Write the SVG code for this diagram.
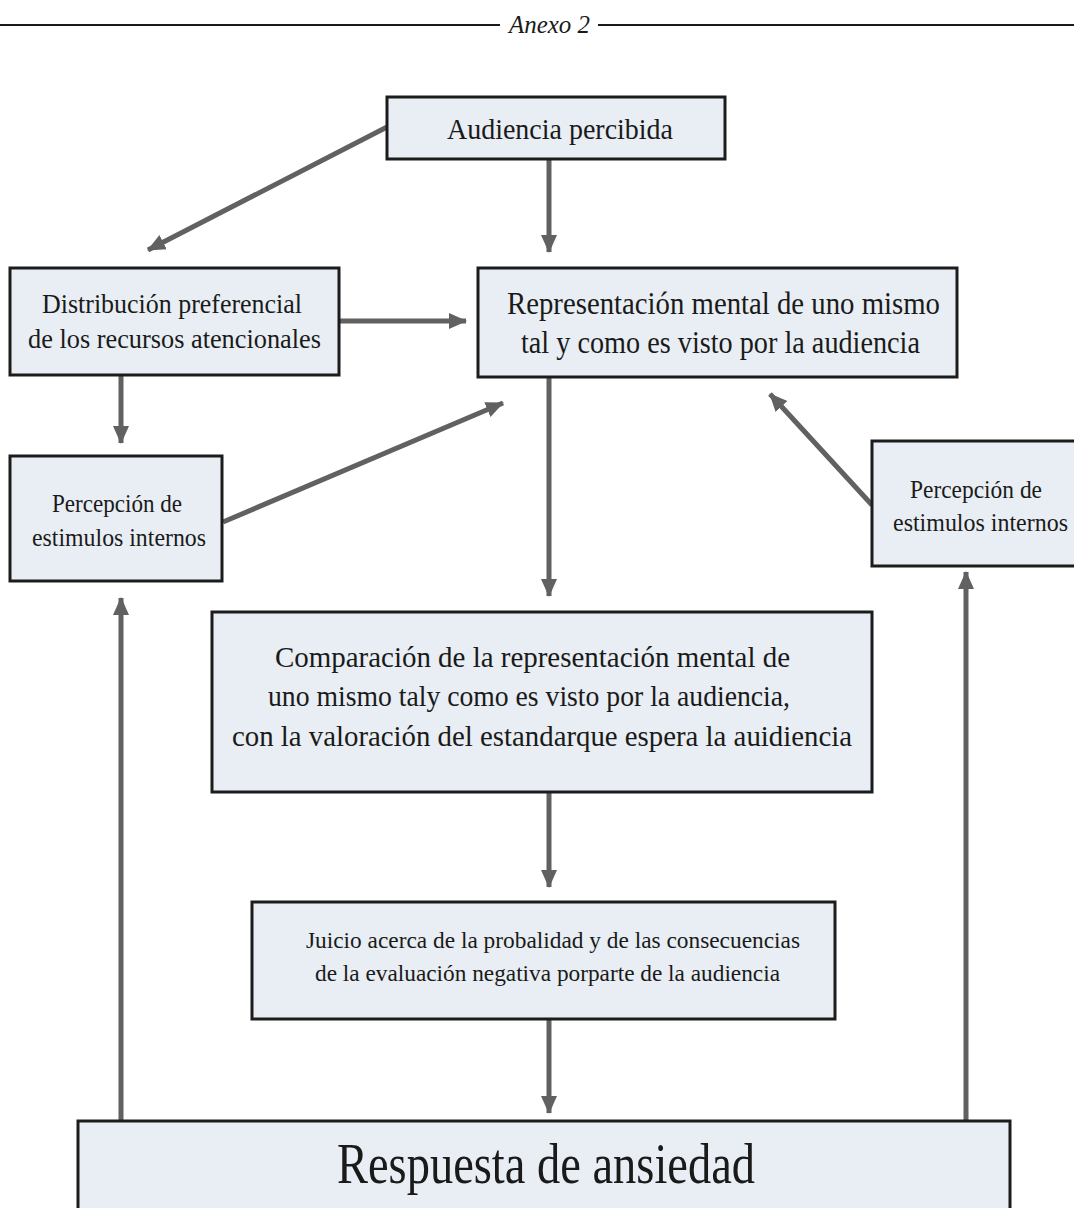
<svg xmlns="http://www.w3.org/2000/svg" width="1074" height="1208" viewBox="0 0 1074 1208">
<style>
.box{fill:#e8eef3;stroke:#1c1c1c;stroke-width:3}
.t{font-family:"Liberation Serif","DejaVu Serif",serif;fill:#1a1a1a}
.c{stroke:#616161;stroke-width:5;fill:none;marker-end:url(#ah)}
</style>
<defs>
<marker id="ah" markerUnits="userSpaceOnUse" markerWidth="18" markerHeight="18" viewBox="0 0 18 18" refX="17" refY="9" orient="auto">
<path d="M0,1 L18,9 L0,17 z" fill="#616161"/>
</marker>
</defs>
<rect width="1074" height="1208" fill="#ffffff"/>
<g id="header">
<line x1="0" y1="25" x2="500" y2="25" stroke="#1a1a1a" stroke-width="2"/>
<line x1="598" y1="25" x2="1074" y2="25" stroke="#1a1a1a" stroke-width="2"/>
<text class="t" x="509" y="33" font-size="25" font-style="italic" textLength="81" lengthAdjust="spacingAndGlyphs">Anexo 2</text>
</g>
<g id="connectors">
<line class="c" x1="387" y1="127" x2="148" y2="250"/>
<line class="c" x1="549" y1="160" x2="549" y2="252"/>
<line class="c" x1="340" y1="321" x2="466" y2="321"/>
<line class="c" x1="121" y1="376" x2="121" y2="443"/>
<line class="c" x1="223" y1="522" x2="503" y2="403"/>
<line class="c" x1="549" y1="378" x2="549" y2="596"/>
<line class="c" x1="872" y1="505" x2="770" y2="394"/>
<line class="c" x1="549" y1="793" x2="549" y2="887"/>
<line class="c" x1="549" y1="1020" x2="549" y2="1113"/>
<line class="c" x1="121" y1="1121" x2="121" y2="598"/>
<line class="c" x1="966" y1="1121" x2="966" y2="572"/>
</g>
<g id="audiencia">
<rect class="box" x="387" y="97" width="338" height="62"/>
<text class="t" x="447" y="139" font-size="30" textLength="226" lengthAdjust="spacingAndGlyphs">Audiencia percibida</text>
</g>
<g id="distribucion">
<rect class="box" x="10" y="268" width="329" height="107"/>
<text class="t" x="42" y="313" font-size="28" textLength="260" lengthAdjust="spacingAndGlyphs">Distribución preferencial</text>
<text class="t" x="28" y="348" font-size="28" textLength="293" lengthAdjust="spacingAndGlyphs">de los recursos atencionales</text>
</g>
<g id="representacion">
<rect class="box" x="478" y="268" width="479" height="109"/>
<text class="t" x="507" y="314" font-size="31" textLength="433" lengthAdjust="spacingAndGlyphs">Representación mental de uno mismo</text>
<text class="t" x="521" y="353" font-size="31" textLength="399" lengthAdjust="spacingAndGlyphs">tal y como es visto por la audiencia</text>
</g>
<g id="percepcion-izq">
<rect class="box" x="10" y="456" width="212" height="125"/>
<text class="t" x="52" y="512" font-size="25" textLength="130" lengthAdjust="spacingAndGlyphs">Percepción de</text>
<text class="t" x="32" y="546" font-size="25" textLength="174" lengthAdjust="spacingAndGlyphs">estimulos internos</text>
</g>
<g id="percepcion-der">
<rect class="box" x="872" y="441" width="210" height="125"/>
<text class="t" x="910" y="498" font-size="25" textLength="132" lengthAdjust="spacingAndGlyphs">Percepción de</text>
<text class="t" x="893" y="531" font-size="25" textLength="175" lengthAdjust="spacingAndGlyphs">estimulos internos</text>
</g>
<g id="comparacion">
<rect class="box" x="212" y="612" width="660" height="180"/>
<text class="t" x="275" y="667" font-size="30" textLength="515" lengthAdjust="spacingAndGlyphs">Comparación de la representación mental de</text>
<text class="t" x="268" y="706" font-size="30" textLength="522" lengthAdjust="spacingAndGlyphs">uno mismo taly como es visto por la audiencia,</text>
<text class="t" x="232" y="746" font-size="30" textLength="620" lengthAdjust="spacingAndGlyphs">con la valoración del estandarque espera la auidiencia</text>
</g>
<g id="juicio">
<rect class="box" x="252" y="902" width="583" height="117"/>
<text class="t" x="306" y="948" font-size="24" textLength="494" lengthAdjust="spacingAndGlyphs">Juicio acerca de la probalidad y de las consecuencias</text>
<text class="t" x="315" y="981" font-size="24" textLength="465" lengthAdjust="spacingAndGlyphs">de la evaluación negativa porparte de la audiencia</text>
</g>
<g id="respuesta">
<rect class="box" x="78" y="1121" width="932" height="95"/>
<text class="t" x="337" y="1183" font-size="58" textLength="418" lengthAdjust="spacingAndGlyphs">Respuesta de ansiedad</text>
</g>
</svg>
